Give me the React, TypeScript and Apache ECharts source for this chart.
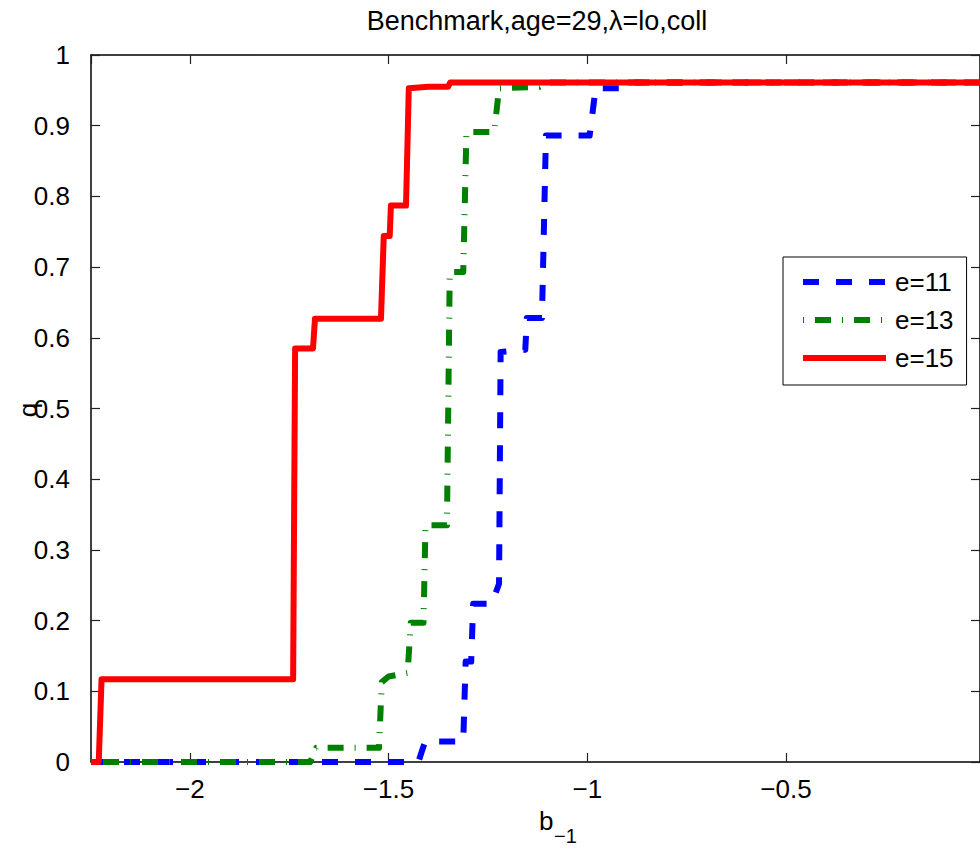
import React, { useEffect, useRef } from 'react';
import * as echarts from 'echarts';

const seriesNames = ['e=11', 'e=13', 'e=15'];

const bE11 = [-2.2485, -1.425, -1.408, -1.312, -1.306, -1.292, -1.287, -1.240, -1.222, -1.218, -1.156, -1.152, -1.114, -1.104, -0.994, -0.979, -0.895, -0.880, -0.012];
const qE11 = [0, 0, 0.029, 0.029, 0.142, 0.142, 0.224, 0.224, 0.252, 0.580, 0.583, 0.628, 0.628, 0.886, 0.886, 0.953, 0.953, 0.961, 0.961];

const bE13 = [-2.2485, -1.697, -1.682, -1.524, -1.517, -1.500, -1.452, -1.444, -1.412, -1.407, -1.353, -1.346, -1.312, -1.304, -1.234, -1.222, -1.120, -1.100, -0.012];
const qE13 = [0, 0, 0.020, 0.020, 0.113, 0.121, 0.126, 0.197, 0.197, 0.335, 0.335, 0.693, 0.693, 0.891, 0.891, 0.953, 0.955, 0.961, 0.961];

const bE15 = [-2.2485, -2.229, -2.222, -1.740, -1.735, -1.690, -1.685, -1.519, -1.512, -1.497, -1.494, -1.456, -1.449, -1.400, -1.350, -1.345, -0.012];
const qE15 = [0, 0, 0.117, 0.117, 0.585, 0.585, 0.627, 0.627, 0.744, 0.744, 0.787, 0.787, 0.953, 0.955, 0.955, 0.961, 0.961];

const xMin = -2.2485;
const xMax = -0.012;

const FONT = '"Liberation Sans", Arial, Helvetica, sans-serif';

const pairs = (xs: number[], ys: number[]) => xs.map((x, i) => [x, ys[i]]);

const fmtX = (v: number) => {
  if (Math.abs(v * 2 - Math.round(v * 2)) > 1e-6) return '';
  const s = String(Math.round(v * 10) / 10);
  return s.replace('-', '\u2212');
};
const fmtY = (v: number) => {
  const r = Math.round(v * 10) / 10;
  return r === 0 ? '0' : r === 1 ? '1' : r.toFixed(1);
};

export default function App() {
  const ref = useRef<HTMLDivElement>(null);
  useEffect(() => {
    if (!ref.current) return;
    const chart = echarts.init(ref.current, undefined, { renderer: 'svg' });
    const axisCommon = {
      axisLine: { show: true, onZero: false, lineStyle: { color: '#000', width: 1.5 } },
      axisTick: { show: true, inside: true, length: 9, lineStyle: { color: '#222', width: 1.2 } },
      splitLine: { show: false },
    };
    chart.setOption({
      animation: false,
      backgroundColor: '#fff',
      grid: { left: 91, top: 55, width: 895, height: 707, containLabel: false },
      xAxis: [
        {
          type: 'value', min: xMin, max: xMax, position: 'bottom',
          ...axisCommon,
          axisLabel: {
            show: true, margin: 14, showMinLabel: false, showMaxLabel: false,
            formatter: fmtX, color: '#000', fontSize: 26, fontFamily: FONT,
          },
        },
        {
          type: 'value', min: xMin, max: xMax, position: 'top',
          ...axisCommon,
          axisLabel: { show: false },
        },
      ],
      yAxis: [
        {
          type: 'value', min: 0, max: 1, interval: 0.1, position: 'left',
          ...axisCommon,
          axisLabel: { show: true, margin: 21, formatter: fmtY, color: '#000', fontSize: 26, fontFamily: FONT },
        },
        {
          type: 'value', min: 0, max: 1, interval: 0.1, position: 'right',
          ...axisCommon,
          axisLabel: { show: false },
        },
      ],
      legend: {
        data: seriesNames,
        orient: 'vertical',
        left: 783,
        top: 257,
        itemWidth: 83,
        itemHeight: 14,
        itemGap: 12,
        padding: [12, 13, 14, 17],
        borderColor: '#000',
        borderWidth: 1,
        backgroundColor: '#fff',
        lineStyle: { width: 6 },
        itemStyle: { color: 'rgba(0,0,0,0)', borderWidth: 0, opacity: 0 },
        textStyle: { fontSize: 26, fontFamily: FONT, color: '#000', padding: [0, 0, 0, 4] },
        selectedMode: false,
      },
      series: [
        {
          name: seriesNames[0], type: 'line', data: pairs(bE11, qE11),
          symbol: 'none', showSymbol: false, color: '#0000ff',
          lineStyle: { color: '#0000ff', width: 6, type: [16, 17], join: 'round' },
        },
        {
          name: seriesNames[1], type: 'line', data: pairs(bE13, qE13),
          symbol: 'none', showSymbol: false, color: '#008000',
          lineStyle: { color: '#008000', width: 6, type: [1, 11, 16, 11], join: 'round' },
        },
        {
          name: seriesNames[2], type: 'line', data: pairs(bE15, qE15),
          symbol: 'none', showSymbol: false, color: '#ff0000',
          lineStyle: { color: '#ff0000', width: 6, type: 'solid', join: 'round' },
        },
      ],
      graphic: [
        {
          type: 'text', x: 537, y: 21,
          style: { text: 'Benchmark,age=29,\u03bb=lo,coll', fontSize: 27, fontFamily: FONT, fill: '#000', align: 'center', verticalAlign: 'middle' },
        },
        {
          type: 'text', x: 539, y: 821,
          style: { text: 'b', fontSize: 26, fontFamily: FONT, fill: '#000', align: 'left', verticalAlign: 'middle' },
        },
        {
          type: 'text', x: 554, y: 836,
          style: { text: '\u22121', fontSize: 20, fontFamily: FONT, fill: '#000', align: 'left', verticalAlign: 'middle' },
        },
        {
          type: 'text', x: 28, y: 410, rotation: Math.PI / 2,
          style: { text: 'q', fontSize: 26, fontFamily: FONT, fill: '#000', align: 'center', verticalAlign: 'middle' },
        },
      ],
    });
    return () => chart.dispose();
  }, []);
  return (
    <div
      ref={ref}
      style={{ position: 'absolute', left: 0, top: 0, width: 980, height: 848, overflow: 'hidden' }}
    />
  );
}
